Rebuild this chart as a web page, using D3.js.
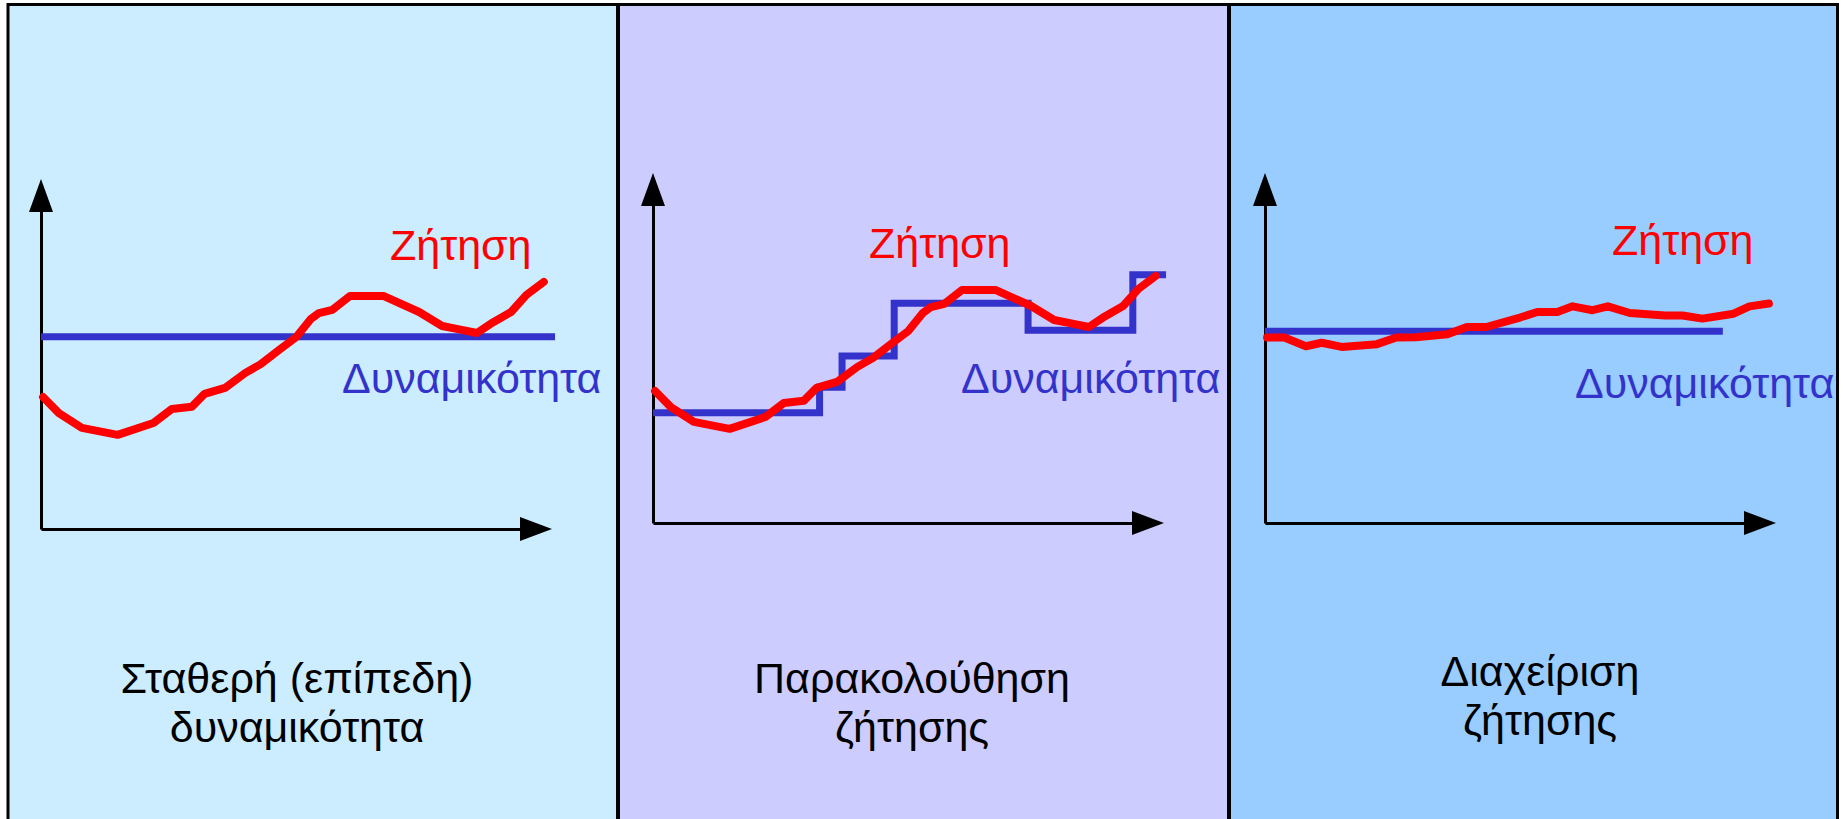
<!DOCTYPE html>
<html>
<head>
<meta charset="utf-8">
<script src="https://cdn.jsdelivr.net/npm/d3@7"></script>
<style>
  html, body { margin: 0; padding: 0; background: #ffffff; overflow: hidden; }
  svg { display: block; }
</style>
</head>
<body>
<svg id="chart" width="1843" height="819"></svg>
<script>
// Demand curve shared by the "flat capacity" and "tracking" scenarios (time 0-100, level 0-100)
const demandTime  = [0.4, 3.5, 8, 15, 22, 25.6, 29.5, 32, 36, 40, 43, 46.8, 50, 52.8, 54.4, 57, 60.5, 67, 74, 78.5, 81.6, 85.3, 88.5, 92, 95, 98.4];
const demandLevel = [37.7, 33.1, 28.9, 26.9, 30.3, 34.3, 34.9, 38.6, 40.3, 44.6, 47.1, 51.4, 54.9, 60, 61.7, 62.6, 66.6, 66.6, 62, 58, 57.1, 56, 59.1, 62, 66.9, 70.6];

// Demand once it is managed (smoothed around capacity)
const managedTime  = [0.4, 3.8, 8.0, 11.1, 15.0, 21.9, 25.7, 29.5, 35.7, 39.5, 43.3, 49.9, 53.3, 57.2, 60.2, 64.1, 67.1, 71.4, 78.3, 81.7, 85.6, 91.7, 94.8, 98.6];
const managedLevel = [53.0, 53.0, 50.5, 51.5, 50.3, 51.1, 53.0, 53.1, 53.9, 56.0, 56.0, 58.7, 60.3, 60.3, 61.9, 60.8, 61.9, 60.0, 59.3, 59.3, 58.4, 59.8, 61.9, 62.7];

// Capacity series
const flatCapTime  = [0, 100.6];
const flatCapLevel = [54.9, 54.9];
const stepCapTime  = [0, 32.6, 37.0, 47.2, 73.4, 93.9, 100.4];
const stepCapLevel = [31.5, 38.8, 47.7, 62.8, 55.1, 70.9, 70.9];
const managedCapTime  = [0, 89.6];
const managedCapLevel = [54.8, 54.8];

// Text
const demandLabel   = "Ζήτηση";
const capacityLabel = "Δυναμικότητα";
const captions = [
  ["Σταθερή (επίπεδη)", "δυναμικότητα"],
  ["Παρακολούθηση", "ζήτησης"],
  ["Διαχείριση", "ζήτησης"]
];

const zip = (t, v) => t.map((d, i) => ({ t: d, v: v[i] }));

// Panel layout
const panels = [
  { x0: 9,    x1: 616,  fill: "#CCECFF", origin: [41, 529],
    demand: zip(demandTime, demandLevel), capacity: zip(flatCapTime, flatCapLevel), step: false,
    demandPos: [390, 260], capPos: [342, 393], captionX: 297, captionY: [693, 742] },
  { x0: 620,  x1: 1227, fill: "#CCCCFF", origin: [653, 523],
    demand: zip(demandTime, demandLevel), capacity: zip(stepCapTime, stepCapLevel), step: true,
    demandPos: [869, 258], capPos: [961, 393], captionX: 912, captionY: [693, 742] },
  { x0: 1231, x1: 1836, fill: "#99CCFF", origin: [1265, 523],
    demand: zip(managedTime, managedLevel), capacity: zip(managedCapTime, managedCapLevel), step: false,
    demandPos: [1612, 255], capPos: [1575, 398], captionX: 1540, captionY: [686, 735] }
];

const AXIS_W = 511, AXIS_H = 350, HEAD_LEN = 32, HEAD_HALF = 12;
const RED = "#FF0000", BLUE = "#3333CC";
const FONT = "'Liberation Sans', Arial, sans-serif";

const svg = d3.select("#chart");

// Panel backgrounds
svg.selectAll("rect.panel").data(panels).join("rect")
  .attr("class", "panel")
  .attr("x", d => d.x0).attr("y", 5)
  .attr("width", d => d.x1 - d.x0).attr("height", 830)
  .attr("fill", d => d.fill);

panels.forEach(p => {
  const [ox, oy] = p.origin;
  const x = d3.scaleLinear().domain([0, 100]).range([ox, ox + AXIS_W]);
  const y = d3.scaleLinear().domain([0, 100]).range([oy, oy - AXIS_H]);
  const g = svg.append("g");

  // Axes without ticks, ending at the arrowhead base
  const xAxisScale = x.copy().range([ox, ox + AXIS_W - HEAD_LEN + 2]);
  const yAxisScale = y.copy().range([oy, oy - AXIS_H + HEAD_LEN - 2]);
  const ax = g.append("g").attr("transform", `translate(0,${oy})`)
    .call(d3.axisBottom(xAxisScale).tickValues([]).tickSizeOuter(0));
  const ay = g.append("g").attr("transform", `translate(${ox},0)`)
    .call(d3.axisLeft(yAxisScale).tickValues([]).tickSizeOuter(0));
  [ax, ay].forEach(a => a.select(".domain").attr("stroke", "#000").attr("stroke-width", 3));

  // Arrowheads
  const tipX = x(100), tipY = y(100);
  g.append("path")
    .attr("d", `M${tipX},${oy} L${tipX - HEAD_LEN},${oy - HEAD_HALF} L${tipX - HEAD_LEN},${oy + HEAD_HALF} Z`)
    .attr("fill", "#000");
  g.append("path")
    .attr("d", `M${ox},${tipY} L${ox - HEAD_HALF},${tipY + HEAD_LEN + 1} L${ox + HEAD_HALF},${tipY + HEAD_LEN + 1} Z`)
    .attr("fill", "#000");

  // Capacity
  const capLine = d3.line().x(d => x(d.t)).y(d => y(d.v))
    .curve(p.step ? d3.curveStepAfter : d3.curveLinear);
  g.append("path").datum(p.capacity)
    .attr("d", capLine)
    .attr("fill", "none").attr("stroke", BLUE).attr("stroke-width", 7)
    .attr("stroke-linejoin", "miter");

  // Demand
  const demLine = d3.line().x(d => x(d.t)).y(d => y(d.v));
  g.append("path").datum(p.demand)
    .attr("d", demLine)
    .attr("fill", "none").attr("stroke", RED).attr("stroke-width", 8)
    .attr("stroke-linejoin", "round").attr("stroke-linecap", "round");

  // Series labels
  g.append("text").attr("x", p.demandPos[0]).attr("y", p.demandPos[1])
    .attr("font-family", FONT).attr("font-size", 43).attr("fill", RED)
    .text(demandLabel);
  g.append("text").attr("x", p.capPos[0]).attr("y", p.capPos[1])
    .attr("font-family", FONT).attr("font-size", 43).attr("fill", BLUE)
    .text(capacityLabel);
});

// Captions
panels.forEach((p, i) => {
  captions[i].forEach((line, j) => {
    svg.append("text")
      .attr("x", p.captionX).attr("y", p.captionY[j])
      .attr("text-anchor", "middle")
      .attr("font-family", FONT).attr("font-size", 43).attr("fill", "#000")
      .text(line);
  });
});

// Frame and dividers
svg.append("path")
  .attr("d", "M8,830 L8,4.5 L1837.5,4.5 L1837.5,830")
  .attr("fill", "none").attr("stroke", "#000").attr("stroke-width", 3);
svg.selectAll("line.divider").data([618, 1229]).join("line")
  .attr("class", "divider")
  .attr("x1", d => d).attr("x2", d => d).attr("y1", 3).attr("y2", 830)
  .attr("stroke", "#000").attr("stroke-width", 4);
</script>
</body>
</html>
